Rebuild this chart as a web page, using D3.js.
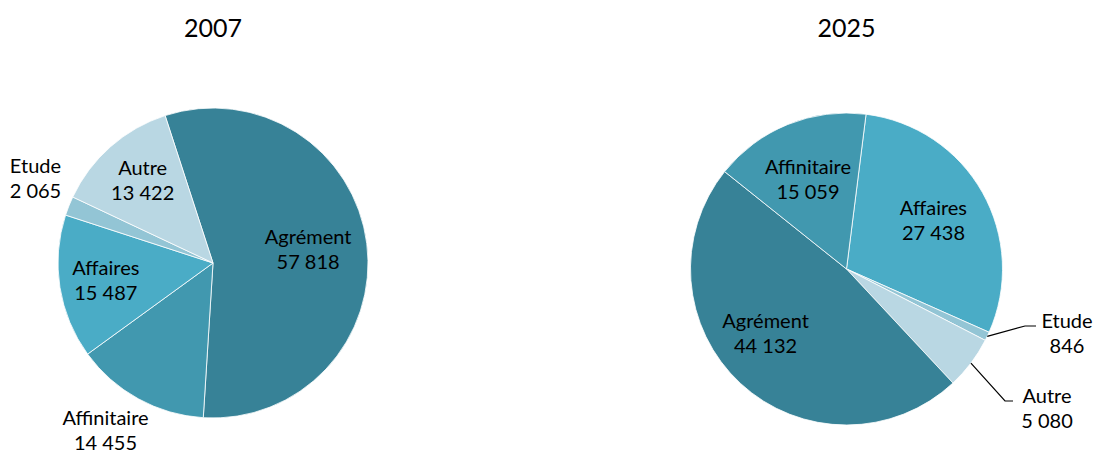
<!DOCTYPE html>
<html>
<head>
<meta charset="utf-8">
<script src="https://cdn.jsdelivr.net/npm/d3@7"></script>
<style>
  html, body { margin: 0; padding: 0; background: #fff; }
  svg { display: block; font-family: Lato, "Liberation Sans", sans-serif; }
</style>
</head>
<body>
<svg id="chart" width="1098" height="454"></svg>
<script>
// Trips by purpose, two years (values in thousands)
const years = ["2007", "2025"];
const categories = ["Agrément", "Affinitaire", "Affaires", "Etude", "Autre"];
const values2007 = [57818, 14455, 15487, 2065, 13422];
const values2025 = [44132, 15059, 27438, 846, 5080];
const colors = ["#378297", "#4198af", "#4aacc6", "#93c5d5", "#b9d7e3"];

const svg = d3.select("#chart");
const fmt = d3.formatLocale({ decimal: ",", thousands: "\u00a0", grouping: [3], currency: ["", " €"] }).format(",d");
const color = d3.scaleOrdinal().domain(categories).range(colors);

// Per-pie geometry and label placement (r = fraction of radius, da = angle nudge in degrees)
const pies = [
  {
    year: years[0], values: values2007, cx: 213, cy: 263, r: 155, start: -18,
    labels: {
      "Agrément":   { r: 0.62, da: -1 },
      "Affinitaire":{ r: 1.28, da: 4 },
      "Affaires":   { r: 0.70, da: 0 },
      "Etude":      { r: 1.27, da: 4 },
      "Autre":      { r: 0.70, da: 1 }
    }
  },
  {
    year: years[1], values: values2025, cx: 846.5, cy: 269, r: 156, start: 7.2,
    // clockwise order for this pie starts with Affaires
    order: ["Affaires", "Etude", "Autre", "Agrément", "Affinitaire"],
    labels: {
      "Agrément":   { r: 0.66, da: 9 },
      "Affinitaire":{ r: 0.63, da: -1 },
      "Affaires":   { r: 0.64, da: 0 },
      "Etude":      { leader: [[1025, 326], [1036, 326]], text: [1067, 320] },
      "Autre":      { leader: [[1005, 401], [1013, 401]], text: [1047, 395] }
    }
  }
];

const rad = Math.PI / 180;

pies.forEach(p => {
  const order = p.order || categories;
  const rows = order.map(c => ({ cat: c, value: p.values[categories.indexOf(c)] }));

  const pie = d3.pie()
    .sort(null)
    .value(d => d.value)
    .startAngle(p.start * rad)
    .endAngle((p.start + 360) * rad);

  const arcs = pie(rows);
  const arc = d3.arc().innerRadius(0).outerRadius(p.r);

  const g = svg.append("g").attr("transform", `translate(${p.cx},${p.cy})`);

  g.selectAll("path")
    .data(arcs)
    .join("path")
    .attr("d", arc)
    .attr("fill", d => color(d.data.cat))
    .attr("stroke", "#ffffff")
    .attr("stroke-width", 0.8);

  // Title
  svg.append("text")
    .attr("x", p.cx)
    .attr("y", 27)
    .attr("text-anchor", "middle")
    .attr("dominant-baseline", "central")
    .attr("font-size", 25)
    .attr("fill", "#000")
    .text(p.year);

  arcs.forEach(a => {
    const spec = p.labels[a.data.cat];
    const mid = (a.startAngle + a.endAngle) / 2;
    let tx, ty;
    if (spec.leader) {
      // leader line from the slice edge to the label
      const ex = p.cx + p.r * Math.sin(mid);
      const ey = p.cy - p.r * Math.cos(mid);
      const pts = [[ex, ey]].concat(spec.leader);
      svg.append("path")
        .attr("d", d3.line()(pts))
        .attr("fill", "none")
        .attr("stroke", "#000")
        .attr("stroke-width", 1.2);
      [tx, ty] = spec.text;
    } else {
      const ang = mid + spec.da * rad;
      tx = p.cx + spec.r * p.r * Math.sin(ang);
      ty = p.cy - spec.r * p.r * Math.cos(ang) - 13;
    }
    const t = svg.append("text")
      .attr("text-anchor", "middle")
      .attr("font-size", 20)
      .attr("fill", "#000");
    t.append("tspan").attr("x", tx).attr("y", ty).attr("dominant-baseline", "central").text(a.data.cat);
    t.append("tspan").attr("x", tx).attr("y", ty + 25).attr("dominant-baseline", "central").text(fmt(a.data.value));
  });
});
</script>
</body>
</html>
